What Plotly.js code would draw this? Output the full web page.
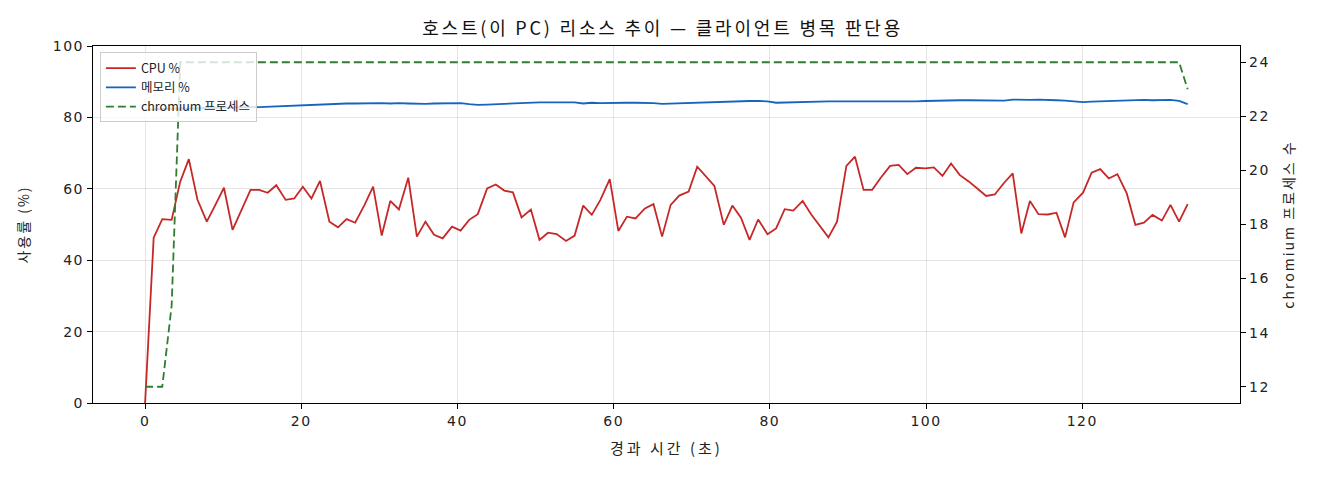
<!DOCTYPE html>
<html>
<head>
<meta charset="utf-8">
<script src="https://cdn.plot.ly/plotly-3.0.1.min.js"></script>
<style>
html,body{margin:0;padding:0;background:#fff;}
#chart{width:1320px;height:480px;}
#chart .gtitle{letter-spacing:2.8px;}
#chart .xtitle{letter-spacing:3px;}
#chart .ytitle, #chart .y2title{letter-spacing:2px;}
#chart .xtick text, #chart .ytick text, #chart .y2tick text{letter-spacing:1.5px;}
</style>
</head>
<body>
<div id="chart"></div>
<script>
const elapsedSec = [0,1.1,2.2,3.4,4.5,5.6,6.7,7.9,9.0,10.1,11.2,12.3,13.5,14.6,15.7,16.8,18.0,19.1,20.2,21.3,
22.4,23.6,24.7,25.8,26.9,28.1,29.2,30.3,31.4,32.5,33.7,34.8,35.9,37.0,38.1,39.3,40.4,41.5,42.6,43.8,
44.9,46.0,47.1,48.2,49.4,50.5,51.6,52.7,53.9,55.0,56.1,57.2,58.3,59.5,60.6,61.7,62.8,64.0,65.1,66.2,
67.3,68.4,69.6,70.7,71.8,72.9,74.1,75.2,76.3,77.4,78.5,79.7,80.8,81.9,83.0,84.2,85.3,86.4,87.5,88.6,
89.8,90.9,92.0,93.1,94.2,95.4,96.5,97.6,98.7,99.9,101.0,102.1,103.2,104.3,105.5,106.6,107.7,108.8,110.0,111.1,
112.2,113.3,114.4,115.6,116.7,117.8,118.9,120.1,121.2,122.3,123.4,124.5,125.7,126.8,127.9,129.0,130.2,131.3,132.4,133.5];

const cpuPct = [0,46.3,51.5,51.3,62.0,68.3,57.0,50.8,55.5,60.3,48.5,54.0,59.7,59.7,58.9,61.0,56.9,57.3,60.6,57.3,
62.2,50.8,49.2,51.5,50.5,55.5,60.6,46.9,56.6,54.2,63.1,46.6,50.8,47.1,46.1,49.4,48.3,51.3,52.9,60.1,
61.2,59.5,59.0,52.0,54.2,45.7,47.7,47.3,45.4,46.9,55.3,52.7,56.9,62.7,48.2,52.2,51.7,54.5,55.7,46.6,
55.5,58.1,59.2,66.2,63.5,60.8,49.9,55.3,51.9,45.7,51.4,47.3,48.9,54.3,53.9,56.6,52.8,49.7,46.4,50.8,
66.4,69.0,59.7,59.7,63.1,66.4,66.7,64.1,65.9,65.7,66.0,63.6,67.1,63.9,62.0,60.0,58.0,58.4,61.7,64.3,
47.5,56.6,52.9,52.8,53.3,46.4,56.2,58.9,64.5,65.5,62.9,64.1,58.7,49.9,50.5,52.7,51.1,55.5,50.8,55.7];

const memPct = [82.2,82.3,82.4,82.4,82.5,82.5,82.6,82.6,82.7,82.7,82.8,82.8,82.9,82.9,83.0,83.1,83.3,83.4,83.5,83.6,
83.6,83.7,83.8,83.9,83.9,84.0,84.0,84.0,83.9,84.0,83.9,83.8,83.8,83.9,83.9,84.0,84.0,83.7,83.5,83.6,
83.7,83.8,83.9,84.1,84.1,84.2,84.2,84.2,84.2,84.2,83.9,84.1,84.0,84.1,84.2,84.1,84.1,84.1,84.0,83.8,
83.9,83.9,84.0,84.1,84.1,84.3,84.4,84.5,84.5,84.6,84.6,84.5,84.1,84.2,84.3,84.3,84.3,84.5,84.5,84.5,
84.6,84.5,84.5,84.5,84.5,84.3,84.4,84.4,84.5,84.6,84.7,84.8,84.8,84.8,84.8,84.8,84.8,84.9,84.7,85.0,
84.9,84.9,85.0,84.8,84.8,84.7,84.5,84.3,84.4,84.5,84.6,84.5,84.8,84.9,84.9,84.8,84.9,84.9,84.6,83.7];

const chromiumProcs = [12,12,12,15,24,24,24,24,24,24,24,24,24,24,24,24,24,24,24,24,
24,24,24,24,24,24,24,24,24,24,24,24,24,24,24,24,24,24,24,24,
24,24,24,24,24,24,24,24,24,24,24,24,24,24,24,24,24,24,24,24,
24,24,24,24,24,24,24,24,24,24,24,24,24,24,24,24,24,24,24,24,
24,24,24,24,24,24,24,24,24,24,24,24,24,24,24,24,24,24,24,24,
24,24,24,24,24,24,24,24,24,24,24,24,24,24,24,24,24,24,24,23];

const xTicks = [0,20,40,60,80,100,120];
const yTicks = [0,20,40,60,80,100];
const y2Ticks = [12,14,16,18,20,22,24];

const FONT = '"Noto Sans CJK KR", "Noto Sans", sans-serif';
const TICKFONT = '"DejaVu Sans", "Noto Sans CJK KR", sans-serif';
const INK = '#222';

const traces = [
  {x: elapsedSec, y: cpuPct, name: 'CPU %', type: 'scatter', mode: 'lines',
   line: {color: '#c62828', width: 1.8}, yaxis: 'y'},
  {x: elapsedSec, y: memPct, name: '메모리 %', type: 'scatter', mode: 'lines',
   line: {color: '#1565c0', width: 1.8}, yaxis: 'y'},
  {x: elapsedSec, y: chromiumProcs, name: 'chromium 프로세스', type: 'scatter', mode: 'lines',
   line: {color: '#2e7d32', width: 1.8, dash: '8px,4px'}, yaxis: 'y2'}
];

const layout = {
  width: 1320, height: 480,
  margin: {l: 93, r: 80, t: 46, b: 77},
  paper_bgcolor: '#fff', plot_bgcolor: '#fff',
  font: {family: FONT, size: 13, color: INK},
  title: {text: '호스트(이 PC) 리소스 추이 — 클라이언트 병목 판단용', x: 0.502, xanchor: 'center', y: 0.94, yanchor: 'middle',
          font: {family: FONT, size: 18, color: '#111'}},
  showlegend: true,
  legend: {x: 0.006, y: 0.982, xanchor: 'left', yanchor: 'top',
           bgcolor: 'rgba(255,255,255,0.8)', bordercolor: '#cccccc', borderwidth: 1,
           font: {family: FONT, size: 12.5, color: INK}, tracegroupgap: 0, itemwidth: 30},
  xaxis: {range: [-6.67, 140.2], tickmode: 'array', tickvals: xTicks, ticks: 'outside', ticklen: 5,
          tickcolor: '#000', showline: true, linecolor: '#000', linewidth: 1.2, mirror: true,
          showgrid: true, gridcolor: 'rgba(0,0,0,0.1)', gridwidth: 1, zeroline: false,
          tickfont: {family: TICKFONT, size: 14, color: INK},
          title: {text: '경과 시간 (초)', font: {family: FONT, size: 15, color: INK}, standoff: 15}},
  yaxis: {range: [0, 100], tickmode: 'array', tickvals: yTicks, ticks: 'outside', ticklen: 5,
          tickcolor: '#000', showline: true, linecolor: '#000', linewidth: 1.2, mirror: true,
          showgrid: true, gridcolor: 'rgba(0,0,0,0.1)', gridwidth: 1, zeroline: false,
          tickfont: {family: TICKFONT, size: 14, color: INK},
          title: {text: '사용률 (%)', font: {family: FONT, size: 14, color: INK}, standoff: 24}},
  yaxis2: {range: [11.4, 24.6], overlaying: 'y', side: 'right', tickmode: 'array', tickvals: y2Ticks,
           ticks: 'outside', ticklen: 5, tickcolor: '#000', showline: true, linecolor: '#000', linewidth: 1.2,
           showgrid: false, zeroline: false,
           tickfont: {family: TICKFONT, size: 14, color: INK},
           title: {text: 'chromium 프로세스 수', font: {family: FONT, size: 14, color: INK}, standoff: 18}}
};

Plotly.newPlot('chart', traces, layout, {displayModeBar: false, staticPlot: true});
</script>
</body>
</html>
